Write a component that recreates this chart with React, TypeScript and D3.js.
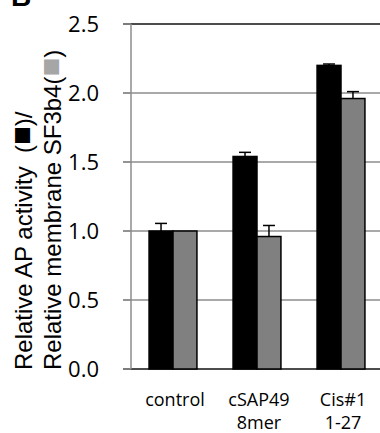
import * as d3 from "d3";

const groups = ["control", "cSAP49", "Cis#1"];
const groupLabels = [["control"], ["cSAP49", "8mer"], ["Cis#1", "1-27"]];
const apActivity = [1.0, 1.54, 2.2];
const apError = [0.055, 0.03, 0.01];
const sf3b4 = [1.0, 0.96, 1.96];
const sf3b4Error = [0, 0.08, 0.05];
const yTicks = [0, 0.5, 1.0, 1.5, 2.0, 2.5];

const W = 380;
const H = 433;
const AXIS_X = 131;
const TICK_FONT = "'Open Sans', 'Liberation Sans', sans-serif";
const LABEL_FONT = "'Liberation Sans', Arial, sans-serif";
const GRID = "#8c8c8c";
const GRAY_BAR = "#808080";

export default function App() {
  const y = d3.scaleLinear().domain([0, 2.5]).range([369, 24]);
  const x = d3
    .scaleBand<string>()
    .domain(groups)
    .range([AXIS_X, AXIS_X + 252])
    .paddingInner(0.43)
    .paddingOuter(0.215);
  const bw = x.bandwidth() / 2;

  const series = [
    { values: apActivity, errors: apError, fill: "#000", offset: 0 },
    { values: sf3b4, errors: sf3b4Error, fill: GRAY_BAR, offset: bw },
  ];

  return (
    <svg width={W} height={H} style={{ position: "absolute", left: 0, top: 0, background: "#fff" }}>
      <text x={11} y={6} fontFamily={LABEL_FONT} fontWeight="bold" fontSize={28}>
        B
      </text>

      {/* gridlines */}
      {yTicks.map((t) => (
        <line
          key={t}
          x1={AXIS_X - 8}
          x2={W}
          y1={y(t)}
          y2={y(t)}
          stroke={t === 2.5 || t === 0 ? "#111" : GRID}
          strokeWidth={1.5}
        />
      ))}
      {yTicks.map((t) => (
        <line key={"tk" + t} x1={AXIS_X - 8} x2={AXIS_X} y1={y(t)} y2={y(t)} stroke={GRID} strokeWidth={1.5} />
      ))}
      <line x1={AXIS_X} x2={AXIS_X} y1={y(2.5)} y2={y(0)} stroke={GRID} strokeWidth={1.5} />

      {yTicks.map((t) => (
        <text
          key={"lb" + t}
          x={99}
          y={y(t)}
          dy="0.36em"
          textAnchor="end"
          fontFamily={TICK_FONT}
          fontSize={22}
          fill="#000"
        >
          {t.toFixed(1)}
        </text>
      ))}

      {/* bars */}
      {series.map((s, si) =>
        groups.map((g, i) => {
          const bx = (x(g) ?? 0) + s.offset;
          return (
            <rect
              key={si + g}
              x={bx}
              y={y(s.values[i])}
              width={bw}
              height={y(0) - y(s.values[i])}
              fill={s.fill}
              stroke="#000"
              strokeWidth={1.5}
            />
          );
        })
      )}

      {/* error bars */}
      {series.map((s, si) =>
        groups.map((g, i) => {
          if (!s.errors[i]) return null;
          const cx = (x(g) ?? 0) + s.offset + bw / 2;
          const top = y(s.values[i] + s.errors[i]);
          return (
            <g key={"e" + si + g} stroke="#000" strokeWidth={1.5}>
              <line x1={cx} x2={cx} y1={y(s.values[i])} y2={top} />
              <line x1={cx - 6} x2={cx + 6} y1={top} y2={top} />
            </g>
          );
        })
      )}

      {/* x labels */}
      {groups.map((g, i) => (
        <text
          key={"xl" + g}
          x={(x(g) ?? 0) + x.bandwidth() / 2 + 2}
          y={406}
          textAnchor="middle"
          fontFamily={TICK_FONT}
          fontSize={18}
          fill="#000"
        >
          {groupLabels[i].map((l, li) => (
            <tspan key={li} x={(x(g) ?? 0) + x.bandwidth() / 2 + 2} dy={li === 0 ? 0 : 23}>
              {l}
            </tspan>
          ))}
        </text>
      ))}

      {/* y label */}
      <g transform="translate(32,370) rotate(-90)" fontFamily={LABEL_FONT} fontSize={24} fill="#000">
        <text x={0} y={0}>
          Relative AP activity{"\u00a0\u00a0"}(<tspan fill="#000" fontSize={31}>■</tspan>)/
        </text>
        <text x={0} y={29}>
          Relative membrane SF3b4(<tspan fill="#a6a6a6" fontSize={31}>■</tspan>)
        </text>
      </g>
    </svg>
  );
}
